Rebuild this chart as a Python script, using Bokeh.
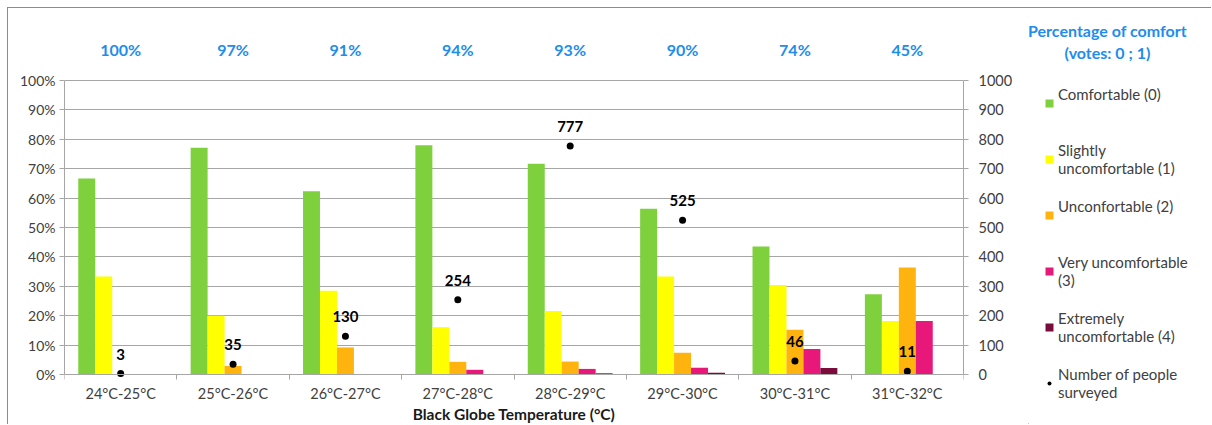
from bokeh.plotting import figure
from bokeh.layouts import row
from bokeh.models import (ColumnDataSource, Range1d, LinearAxis, FixedTicker,
                          NumeralTickFormatter, LabelSet, Label, Legend, LegendItem)
from bokeh.core.properties import value
from bokeh.embed import file_html
from bokeh.resources import INLINE

categories = ["24°C-25°C", "25°C-26°C", "26°C-27°C", "27°C-28°C",
              "28°C-29°C", "29°C-30°C", "30°C-31°C", "31°C-32°C"]
comfortable = [66.7, 77.1, 62.3, 78.0, 71.7, 56.4, 43.5, 27.3]
slightly = [33.3, 20.0, 28.5, 16.1, 21.6, 33.3, 30.4, 18.2]
unconfortable = [0.0, 2.9, 9.2, 4.3, 4.4, 7.4, 15.2, 36.4]
very = [0.0, 0.0, 0.0, 1.6, 1.9, 2.3, 8.7, 18.2]
extremely = [0.0, 0.0, 0.0, 0.0, 0.4, 0.6, 2.2, 0.0]
surveyed = [3, 35, 130, 254, 777, 525, 46, 11]
comfort_pct = ["100%", "97%", "91%", "94%", "93%", "90%", "74%", "45%"]

series_names = ["Comfortable (0)\n ", "Slightly\nuncomfortable (1)", "Unconfortable (2)\n ",
                "Very uncomfortable\n(3)", "Extremely\nuncomfortable (4)"]
series_vals = [comfortable, slightly, unconfortable, very, extremely]
colors = ["#7ED13C", "#FFFF00", "#FFB30F", "#E8187A", "#7A0C3C"]
count_name = "Number of people\nsurveyed"
legend_title = ["Percentage of comfort", "(votes: 0 ; 1)"]

FONT = "Lato"
GRID = "#A6A6A6"
TXT = "#404040"
BLUE = "#1E8DEB"

n = len(categories)
centers = [i + 0.5 for i in range(n)]
bw = 0.151

# geometry (px): figure height H, zero-line 50 px above the bottom, 294 px per 100 %
H = 416
ZERO = 50
UNIT = 294
y0 = -ZERO / UNIT
y1 = (H - ZERO) / UNIT

pA = figure(width=1020, height=H, output_backend="svg", toolbar_location=None,
            x_range=Range1d(0, n), y_range=Range1d(y0, y1),
            min_border_left=56, min_border_right=65, min_border_top=0, min_border_bottom=0)
pA.outline_line_color = None
pA.extra_y_ranges = {"count": Range1d(1000 * y0, 1000 * y1)}

renderers = []
for k, (vals, col) in enumerate(zip(series_vals, colors)):
    src = ColumnDataSource(dict(x=[c + (k - 2) * bw for c in centers],
                                top=[v / 100.0 for v in vals]))
    r = pA.vbar(x="x", top="top", width=bw, bottom=0, source=src,
                fill_color=col, line_color=None)
    renderers.append(r)

csrc = ColumnDataSource(dict(x=centers, y=surveyed, lab=[str(s) for s in surveyed]))
pA.scatter(x="x", y="y", source=csrc, y_range_name="count", size=7,
           fill_color="black", line_color=None)
pA.add_layout(LabelSet(x="x", y="y", text="lab", source=csrc, y_range_name="count",
                       y_offset=14, text_align="center", text_baseline="bottom",
                       text_font=value(FONT), text_font_size="15px", text_font_style="bold",
                       text_color="black"))

psrc = ColumnDataSource(dict(x=centers, y=[1.105] * n, lab=comfort_pct))
pA.add_layout(LabelSet(x="x", y="y", text="lab", source=psrc,
                       text_align="center", text_baseline="middle",
                       text_font=value(FONT), text_font_size="16px", text_font_style="bold",
                       text_color=BLUE))

# x axis drawn at the zero line
xa = pA.xaxis[0]
xa.fixed_location = 0
xa.ticker = FixedTicker(ticks=centers, minor_ticks=list(range(n + 1)))
xa.major_label_overrides = {c: lab for c, lab in zip(centers, categories)}
xa.major_tick_line_color = None
xa.major_tick_out = 0
xa.major_tick_in = 0
xa.minor_tick_line_color = GRID
xa.minor_tick_out = 5
xa.minor_tick_in = 0
xa.axis_line_color = GRID
xa.major_label_standoff = 5
xa.major_label_text_font = FONT
xa.major_label_text_font_size = "14.5px"
xa.major_label_text_color = TXT
xa.axis_label = "Black Globe Temperature (°C)"
xa.axis_label_text_font = FONT
xa.axis_label_text_font_size = "15.5px"
xa.axis_label_text_font_style = "bold"
xa.axis_label_text_color = "#1A1A1A"
xa.axis_label_standoff = 0

# left y axis
ya = pA.yaxis[0]
ya.bounds = (0, 1)
ya.ticker = FixedTicker(ticks=[i / 10 for i in range(11)])
ya.formatter = NumeralTickFormatter(format="0%")
ya.axis_line_color = GRID
ya.major_tick_line_color = GRID
ya.major_tick_out = 5
ya.major_tick_in = 0
ya.minor_tick_line_color = None
ya.major_label_text_font = FONT
ya.major_label_text_font_size = "14px"
ya.major_label_text_color = TXT
ya.major_label_standoff = 4

ra = LinearAxis(y_range_name="count", bounds=(0, 1000),
                ticker=FixedTicker(ticks=list(range(0, 1001, 100))))
ra.axis_line_color = GRID
ra.major_tick_line_color = GRID
ra.major_tick_out = 5
ra.major_tick_in = 0
ra.minor_tick_line_color = None
ra.major_label_text_font = FONT
ra.major_label_text_font_size = "14.5px"
ra.major_label_text_color = TXT
ra.major_label_standoff = 10
pA.add_layout(ra, "right")

pA.xgrid.grid_line_color = None
pA.ygrid.ticker = FixedTicker(ticks=[i / 10 for i in range(11)])
pA.ygrid.grid_line_color = GRID

# legend / title figure
WB = 183
pB = figure(width=WB, height=H, output_backend="svg", toolbar_location=None,
            x_range=Range1d(0, WB), y_range=Range1d(0, H),
            x_axis_type=None, y_axis_type=None,
            min_border_left=0, min_border_right=0, min_border_top=0, min_border_bottom=0)
pB.outline_line_color = None
pB.xgrid.grid_line_color = None
pB.ygrid.grid_line_color = None

proxies = [pB.vbar(x=[-1000], top=[1], width=1, fill_color=col, line_color=None)
           for col in colors]
dot_proxy = pB.scatter(x=[-1000], y=[-1000], size=6, fill_color="black", line_color=None)

items = [LegendItem(label=nm, renderers=[r]) for nm, r in zip(series_names, proxies)]
items.append(LegendItem(label=count_name, renderers=[dot_proxy]))
leg = Legend(items=items, location=(16, 23), orientation="vertical",
             glyph_width=10, glyph_height=10, label_standoff=4, spacing=20,
             label_height=36, padding=0, margin=0,
             label_text_font=FONT, label_text_font_size="15px", label_text_color=TXT,
             border_line_color=None, background_fill_alpha=0)
pB.add_layout(leg, "center")

for t, yy in zip(legend_title, [H - 22, H - 44]):
    pB.add_layout(Label(x=79, y=yy, text=t, text_align="center", text_baseline="middle",
                        text_font=FONT, text_font_size="16px", text_font_style="bold",
                        text_color=BLUE))

layout = row(pA, pB, styles={"margin-left": "7px", "margin-top": "7px",
                             "border-left": "1px solid #8C8C8C",
                             "border-top": "1px solid #8C8C8C"})

open("out.html", "w").write(file_html(layout, INLINE))
